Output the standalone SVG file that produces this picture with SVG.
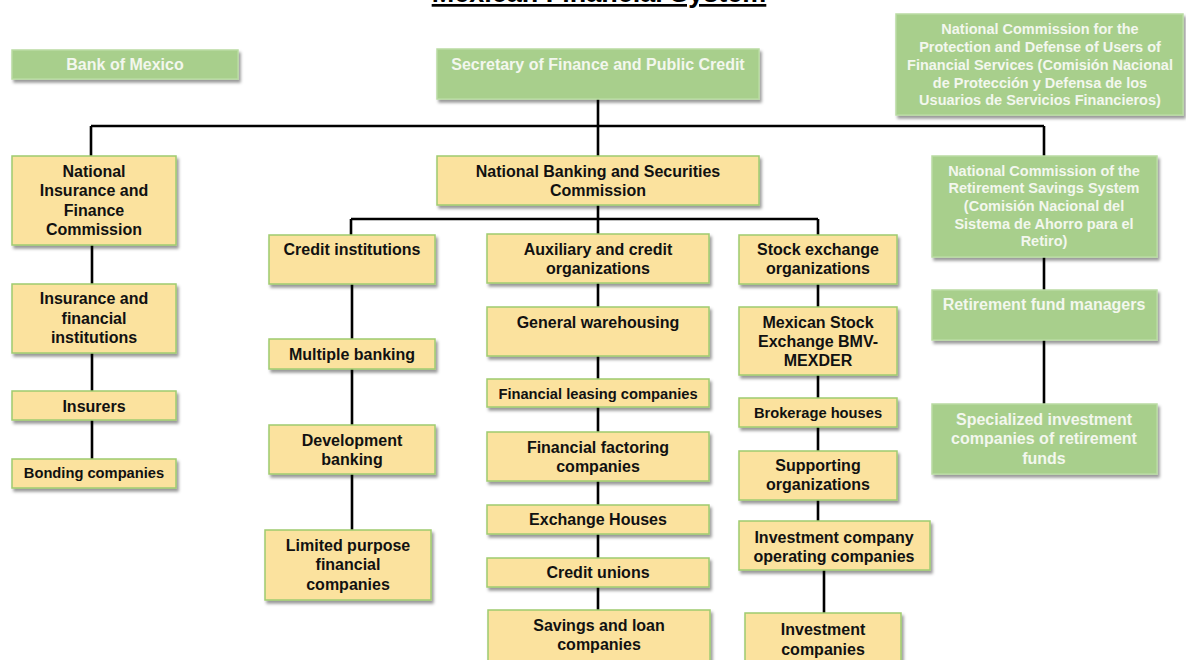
<svg xmlns="http://www.w3.org/2000/svg" width="1186" height="660" viewBox="0 0 1186 660">
<defs>
<filter id="sh" x="-10%" y="-10%" width="125%" height="140%">
<feDropShadow dx="2" dy="3" stdDeviation="1.6" flood-color="#000" flood-opacity="0.4"/>
</filter>
<style>
.y{fill:#FBE29E;stroke:#9FCB6F;stroke-width:1.5;filter:url(#sh)}
.g{fill:#A8CF8C;stroke:#B9DBA2;stroke-width:1.5;filter:url(#sh)}
text{font-family:"Liberation Sans",Arial,sans-serif;font-weight:bold;text-anchor:middle}
.ty{fill:#111;font-size:16px}
.ts{fill:#111;font-size:14.7px}
.tg{fill:#F3F7EE;font-size:16px}
.tgs{fill:#F3F7EE;font-size:14.5px}
.c{stroke:#000;stroke-width:2.6;fill:none}
</style>
</defs>
<rect width="1186" height="660" fill="#fff"/>
<text x="599" y="2" style="font-size:27px;fill:#000;text-decoration:underline">Mexican Financial System</text>

<g id="connectors">
<path class="c" d="M598 99V126M91 126H1044M91 126V156M1044 126V156M598 126V156"/>
<path class="c" d="M598 205V219M351 219H818M351 219V235M598 219V234M818 219V235"/>
<path class="c" d="M92 245V284M92 353V391M92 420V459"/>
<path class="c" d="M352 284V339M352 369V425M352 474V530"/>
<path class="c" d="M598 283V307M598 356V379M598 407V432M598 481V505M598 534V558M598 587V610"/>
<path class="c" d="M818 284V307M818 375V398M818 427V451M818 500V521M824 570V613"/>
<path class="c" d="M1044 257V290M1044 340V404"/>
</g>

<g id="bank-of-mexico"><rect class="g" x="12" y="50" width="226" height="29"/><text class="tg" x="125" y="70">Bank of Mexico</text></g>
<g id="shcp"><rect class="g" x="437" y="49" width="322" height="50"/><text class="tg" x="598" y="70">Secretary of Finance and Public Credit</text></g>
<g id="condusef"><rect class="g" x="896" y="14" width="287" height="101"/>
<text class="tgs" x="1040" y="34">National Commission for the</text>
<text class="tgs" x="1040" y="52">Protection and Defense of Users of</text>
<text class="tgs" x="1040" y="70">Financial Services (Comisión Nacional</text>
<text class="tgs" x="1040" y="88">de Protección y Defensa de los</text>
<text class="tgs" x="1040" y="105">Usuarios de Servicios Financieros)</text></g>
<g id="consar"><rect class="g" x="932" y="156" width="225" height="101"/>
<text class="tgs" x="1044" y="176">National Commission of the</text>
<text class="tgs" x="1044" y="193">Retirement Savings System</text>
<text class="tgs" x="1044" y="211">(Comisión Nacional del</text>
<text class="tgs" x="1044" y="229">Sistema de Ahorro para el</text>
<text class="tgs" x="1044" y="246">Retiro)</text></g>
<g id="afore"><rect class="g" x="932" y="290" width="225" height="50"/><text class="tg" x="1044" y="310">Retirement fund managers</text></g>
<g id="siefore"><rect class="g" x="932" y="404" width="225" height="70"/>
<text class="tg" x="1044" y="425">Specialized investment</text>
<text class="tg" x="1044" y="444">companies of retirement</text>
<text class="tg" x="1044" y="464">funds</text></g>

<g id="cnsf"><rect class="y" x="12" y="156" width="164" height="89"/>
<text class="ty" x="94" y="177">National</text>
<text class="ty" x="94" y="196">Insurance and</text>
<text class="ty" x="94" y="216">Finance</text>
<text class="ty" x="94" y="235">Commission</text></g>
<g id="insurance-institutions"><rect class="y" x="12" y="284" width="164" height="69"/>
<text class="ty" x="94" y="304">Insurance and</text>
<text class="ty" x="94" y="324">financial</text>
<text class="ty" x="94" y="343">institutions</text></g>
<g id="insurers"><rect class="y" x="12" y="391" width="164" height="29"/><text class="ty" x="94" y="411.5">Insurers</text></g>
<g id="bonding"><rect class="y" x="12" y="459" width="164" height="29"/><text class="ts" x="94" y="478">Bonding companies</text></g>

<g id="cnbv"><rect class="y" x="437" y="156" width="322" height="49"/>
<text class="ty" x="598" y="177">National Banking and Securities</text>
<text class="ty" x="598" y="196">Commission</text></g>

<g id="credit-institutions"><rect class="y" x="269" y="235" width="166" height="49"/><text class="ty" x="352" y="255">Credit institutions</text></g>
<g id="multiple-banking"><rect class="y" x="269" y="339" width="166" height="30"/><text class="ty" x="352" y="360">Multiple banking</text></g>
<g id="development-banking"><rect class="y" x="269" y="425" width="166" height="49"/>
<text class="ty" x="352" y="446">Development</text>
<text class="ty" x="352" y="465">banking</text></g>
<g id="limited-purpose"><rect class="y" x="265" y="530" width="166" height="70"/>
<text class="ty" x="348" y="551">Limited purpose</text>
<text class="ty" x="348" y="570">financial</text>
<text class="ty" x="348" y="590">companies</text></g>

<g id="auxiliary"><rect class="y" x="487" y="234" width="222" height="49"/>
<text class="ty" x="598" y="255">Auxiliary and credit</text>
<text class="ty" x="598" y="274">organizations</text></g>
<g id="warehousing"><rect class="y" x="487" y="307" width="222" height="49"/><text class="ty" x="598" y="327.5">General warehousing</text></g>
<g id="leasing"><rect class="y" x="487" y="379" width="222" height="28"/><text class="ts" x="598" y="398.5">Financial leasing companies</text></g>
<g id="factoring"><rect class="y" x="487" y="432" width="222" height="49"/>
<text class="ty" x="598" y="453">Financial factoring</text>
<text class="ty" x="598" y="472">companies</text></g>
<g id="exchange-houses"><rect class="y" x="487" y="505" width="222" height="29"/><text class="ty" x="598" y="525">Exchange Houses</text></g>
<g id="credit-unions"><rect class="y" x="487" y="558" width="222" height="29"/><text class="ty" x="598" y="578">Credit unions</text></g>
<g id="savings-loan"><rect class="y" x="488" y="610" width="222" height="52"/>
<text class="ty" x="599" y="631">Savings and loan</text>
<text class="ty" x="599" y="650">companies</text></g>

<g id="stock-exchange-orgs"><rect class="y" x="739" y="235" width="158" height="49"/>
<text class="ty" x="818" y="255">Stock exchange</text>
<text class="ty" x="818" y="274">organizations</text></g>
<g id="bmv"><rect class="y" x="739" y="307" width="158" height="68"/>
<text class="ty" x="818" y="327.5">Mexican Stock</text>
<text class="ty" x="818" y="347">Exchange BMV-</text>
<text class="ty" x="818" y="366">MEXDER</text></g>
<g id="brokerage"><rect class="y" x="739" y="398" width="158" height="29"/><text class="ts" x="818" y="418">Brokerage houses</text></g>
<g id="supporting"><rect class="y" x="739" y="451" width="158" height="49"/>
<text class="ty" x="818" y="471">Supporting</text>
<text class="ty" x="818" y="490">organizations</text></g>
<g id="operating-companies"><rect class="y" x="739" y="521" width="191" height="49"/>
<text class="ty" x="834" y="543">Investment company</text>
<text class="ty" x="834" y="562">operating companies</text></g>
<g id="investment-companies"><rect class="y" x="745" y="613" width="156" height="50"/>
<text class="ty" x="823" y="635">Investment</text>
<text class="ty" x="823" y="655">companies</text></g>
</svg>
